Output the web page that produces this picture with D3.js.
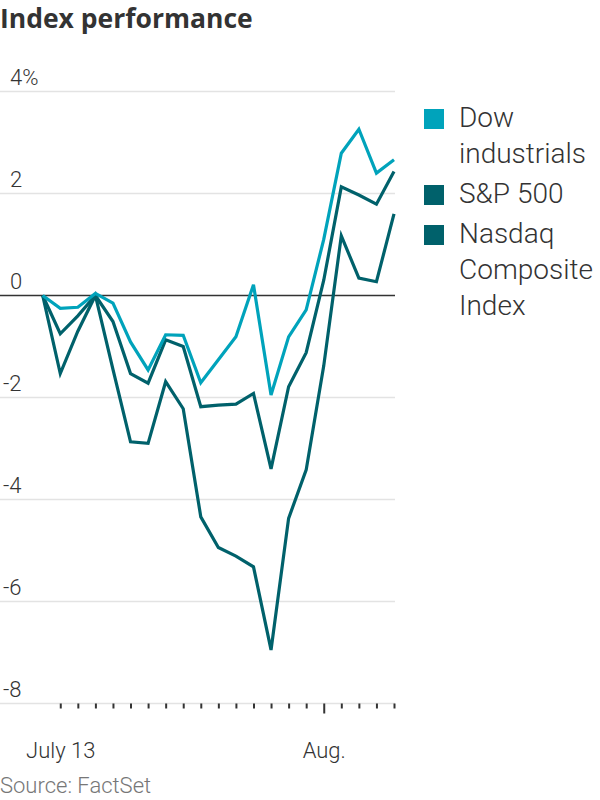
<!DOCTYPE html>
<html>
<head>
<meta charset="utf-8">
<script src="https://cdn.jsdelivr.net/npm/d3@7"></script>
<style>
  body { margin: 0; background: #fff; }
  svg text { font-family: Roboto, "Noto Sans", sans-serif; }
</style>
</head>
<body>
<div id="wrapper"></div>
<script>
// trading days shown on the chart
const days = ["Jul 10", "Jul 13", "Jul 14", "Jul 15", "Jul 16", "Jul 17",
  "Jul 20", "Jul 21", "Jul 22", "Jul 23", "Jul 24",
  "Jul 27", "Jul 28", "Jul 29", "Jul 30", "Jul 31",
  "Aug 3", "Aug 4", "Aug 5", "Aug 6", "Aug 7"];

// percent change since start
const dow = [0, -0.25, -0.23, 0.04, -0.15, -0.91, -1.46, -0.77, -0.78, -1.71,
  -1.26, -0.81, 0.21, -1.95, -0.81, -0.28, 1.1, 2.79, 3.26, 2.4, 2.66];
const sp500 = [0, -0.75, -0.4, 0, -0.51, -1.53, -1.72, -0.87, -1.0, -2.18,
  -2.15, -2.13, -1.92, -3.4, -1.79, -1.12, 0.3, 2.13, 1.97, 1.79, 2.43];
const nasdaq = [0, -1.53, -0.7, 0, -1.45, -2.87, -2.9, -1.69, -2.22, -4.34,
  -4.94, -5.11, -5.32, -6.95, -4.37, -3.42, -1.38, 1.17, 0.34, 0.27, 1.6];

const yTicks = [4, 2, 0, -2, -4, -6, -8];
const xLabels = { "Jul 13": "July 13", "Aug 3": "Aug." };

const series = [
  { name: ["Nasdaq", "Composite", "Index"], values: nasdaq, color: "#00616b" },
  { name: ["S&P 500"], values: sp500, color: "#00616b" },
  { name: ["Dow", "industrials"], values: dow, color: "#00a3bb" }
];
const legendOrder = [series[2], series[1], series[0]];

const width = 600, height = 800;
const plot = { left: 0, right: 395, top: 91.5, bottom: 703.5 };

const svg = d3.select("#wrapper").append("svg")
  .attr("width", width)
  .attr("height", height);

svg.append("text")
  .attr("x", 0)
  .attr("y", 28)
  .attr("fill", "#333")
  .style("font-family", "'Open Sans', Roboto, sans-serif")
  .style("font-size", "26.5px")
  .style("font-weight", "bold")
  .text("Index performance");

const x = d3.scalePoint().domain(days).range([42.7, 394]);
const y = d3.scaleLinear().domain([-8, 4]).range([plot.bottom, plot.top]);

// grid lines + labels
const grid = svg.append("g");
grid.selectAll("line").data(yTicks).join("line")
  .attr("x1", plot.left).attr("x2", plot.right)
  .attr("y1", d => y(d)).attr("y2", d => y(d))
  .attr("stroke", d => d === 0 ? "#333" : "#e3e3e3")
  .attr("stroke-width", 1.6);

grid.selectAll("text").data(yTicks).join("text")
  .attr("x", d => d < 0 ? 3 : 10)
  .attr("y", d => y(d) - 7)
  .attr("fill", "#333")
  .style("font-size", "22px")
  .style("font-weight", 300)
  .text(d => (d === 4 ? "4%" : String(d)));

// x axis ticks
const xAxis = d3.axisBottom(x)
  .tickValues(days.slice(1))
  .tickSize(5)
  .tickFormat(d => xLabels[d] || "");

const ax = svg.append("g")
  .attr("transform", `translate(0,${plot.bottom})`)
  .call(xAxis);
ax.select(".domain").remove();
ax.selectAll(".tick line")
  .attr("stroke", "#333")
  .attr("stroke-width", 2)
  .attr("y2", d => d === "Aug 3" ? 10 : 5);
ax.selectAll(".tick text")
  .attr("y", 39)
  .attr("fill", "#333")
  .style("font-family", "Roboto, sans-serif")
  .style("font-size", "22px")
  .style("font-weight", 300);

// lines
const line = d3.line()
  .x((d, i) => x(days[i]))
  .y(d => y(d));

svg.append("g").selectAll("path").data(series).join("path")
  .attr("d", d => line(d.values))
  .attr("fill", "none")
  .attr("stroke", d => d.color)
  .attr("stroke-width", 3.2)
  .attr("stroke-linejoin", "miter");

// legend
const legendY = [109, 185, 225];
const legend = svg.append("g");
legendOrder.forEach((s, i) => {
  const g = legend.append("g").attr("transform", `translate(424,${legendY[i]})`);
  g.append("rect")
    .attr("width", 20).attr("height", 20)
    .attr("fill", s.color);
  s.name.forEach((t, j) => {
    g.append("text")
      .attr("x", 35)
      .attr("y", 18 + j * 36)
      .attr("fill", "#333")
      .style("font-size", "28px")
      .style("font-weight", 300)
      .text(t);
  });
});

svg.append("text")
  .attr("x", 0)
  .attr("y", 793)
  .attr("fill", "#777")
  .style("font-size", "22px")
  .style("font-weight", 300)
  .text("Source: FactSet");
</script>
</body>
</html>
